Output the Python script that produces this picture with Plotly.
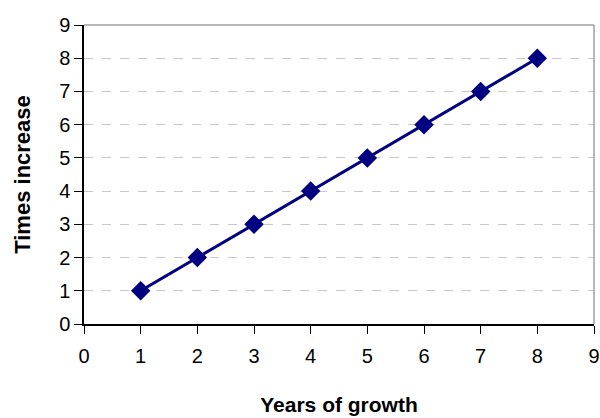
import plotly.graph_objects as go

years = [1, 2, 3, 4, 5, 6, 7, 8]
times = [1, 2, 3, 4, 5, 6, 7, 8]
x_ticks = [0, 1, 2, 3, 4, 5, 6, 7, 8, 9]
y_ticks = [0, 1, 2, 3, 4, 5, 6, 7, 8, 9]

fig = go.Figure()
fig.add_trace(go.Scatter(
    x=years, y=times, mode="lines+markers",
    line=dict(color="#000080", width=3),
    marker=dict(symbol="diamond", size=15, color="#000080"),
    cliponaxis=False,
))

font = "Liberation Sans, Arial, sans-serif"
fig.update_layout(
    width=600, height=418,
    margin=dict(l=84, r=6, t=25, b=94),
    paper_bgcolor="white", plot_bgcolor="white",
    showlegend=False,
    font=dict(family=font, size=20, color="black"),
    xaxis=dict(
        range=[0, 9], tickvals=x_ticks, showgrid=False, zeroline=False,
        showline=True, linecolor="black", linewidth=1.5,
        ticks="outside", ticklen=8, tickcolor="black",
        tickfont=dict(size=20), automargin=False, ticklabelstandoff=5,
        title=dict(text="<b>Years of growth</b>", font=dict(size=21), standoff=32),
    ),
    yaxis=dict(
        range=[0, 9], tickvals=y_ticks, showgrid=True, gridcolor="#c8c8c8",
        griddash="dash", gridwidth=1.2, zeroline=False,
        showline=True, linecolor="black", linewidth=1.5,
        ticks="outside", ticklen=8, tickcolor="black",
        tickfont=dict(size=20), automargin=False,
        title=dict(text="<b>Times increase</b>", font=dict(size=22), standoff=22),
    ),
)
fig.add_shape(type="line", xref="x domain", yref="y domain", x0=0, x1=1, y0=1, y1=1,
              line=dict(color="#a0a0a0", width=1.5))
fig.add_shape(type="line", xref="x domain", yref="y domain", x0=1, x1=1, y0=0, y1=1,
              line=dict(color="#a0a0a0", width=1.5))
fig.write_html("out.html", config={"displayModeBar": False},
               post_script="document.body.style.margin='0px';")
